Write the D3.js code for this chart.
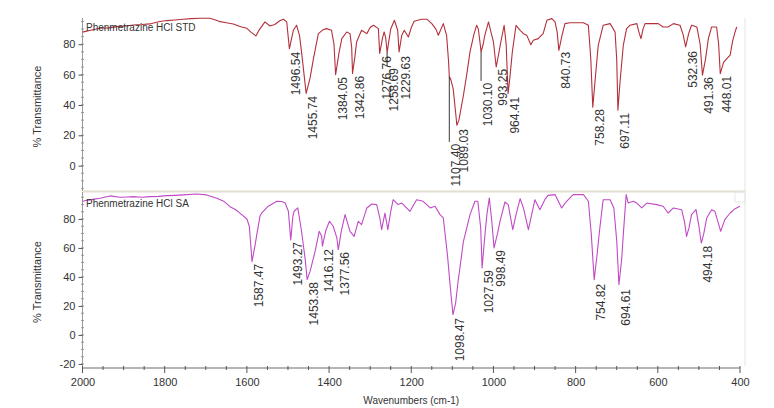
<!DOCTYPE html>
<html><head><meta charset="utf-8">
<script src="https://cdn.jsdelivr.net/npm/d3@7"></script>
<style>
html,body{margin:0;padding:0;background:#fff;}
svg{display:block;font-family:"Liberation Sans",Arial,sans-serif;}
</style></head>
<body>
<svg id="c" width="774" height="408"></svg>
<script>
// ---------- DATA ----------
const xTickLabels = [2000, 1800, 1600, 1400, 1200, 1000, 800, 600, 400];
const yTicksTop = [0, 20, 40, 60, 80];
const yTicksBottom = [-20, 0, 20, 40, 60, 80];
const panelTitles = ["Phenmetrazine HCl STD", "Phenmetrazine HCl SA"];

// Reference spectrum (STD): [wavenumber, %T]
const stdSpectrum = [
[2000,88],[1995,88.3],[1975,89.5],[1957,90.5],[1935,90.8],[1917,91.6],[1895,92],[1876,92.7],[1855,93],[1836,93.4],
[1815,94.8],[1795,95.6],[1775,96],[1755,96.5],[1735,96.9],[1714,97.1],[1690,97.1],[1678,96.2],[1665,94.9],[1650,94.2],
[1633,93.4],[1615,91.5],[1600,90.5],[1590,88],[1578,85.5],[1570,89.5],[1556,94.7],[1544,92],[1532,93],[1520,95.5],
[1511,96.5],[1503,94.7],[1496.54,77],[1487,89.2],[1479,92.5],[1472,86],[1467,75],[1455.74,47.6],[1446,58],[1438,70.5],
[1426,87],[1415,89.5],[1406,90.3],[1394,89.2],[1388,80],[1384.05,60],[1376,74],[1369,83.7],[1357,88.1],[1349,87],
[1345,78],[1342.86,60.8],[1337,72],[1333,81.5],[1321,89.2],[1308,87],[1300,91],[1292,92.5],[1280,90.3],[1276.76,74],
[1270,84],[1266,88.1],[1262,84],[1258.69,74.6],[1250,90],[1241,95.8],[1233,89.2],[1229.63,75],[1223,86],[1217,89.2],
[1207,84.8],[1200,91],[1193,95.2],[1175,96.5],[1162,96.5],[1150,93.6],[1140,90],[1134,85.9],[1122,93.6],[1114,85.9],
[1109,68],[1107.40,58.5],[1104,57],[1098,50.7],[1092,35],[1089.03,26.6],[1084,30],[1073,46.4],[1065,60],[1057,75],
[1048,86],[1041,92.5],[1037,90.3],[1033,82],[1030.10,75],[1025,80],[1021,85.9],[1012,94.7],[1006,88],[1000,81.5],
[993.25,65],[987,74],[982,81.5],[974,92.5],[969,80],[964.41,47.5],[960,58],[954,75],[945,92.5],[935,89.2],
[927,87],[919,86],[909,79.7],[903,82.6],[891,83.7],[879,87],[870,95.8],[858,96.9],[850,94.7],[845,88],
[840.73,76],[833,86],[826,93.6],[814,94.2],[781,94.2],[769,92.5],[763,70],[758.28,38.5],[752,58],[745,79.3],
[733,92.5],[716,93.6],[704,88.1],[700,70],[697.11,36.6],[692,55],[684,79.3],[676,90.3],[668,92.5],[651,93.6],
[646,88],[641,83.7],[636,90],[631,93.6],[599,93.6],[587,91.4],[575,91.4],[562,93.6],[546,92.5],[538,86],
[532.36,78.2],[525,87],[518,92.5],[505,91.4],[497,80],[491.36,59.6],[484,70],[477,83.7],[469,91.4],[457,91.4],
[452,80],[448.01,60.6],[440,68],[432,70.5],[424,72.8],[418,82],[412,88.1],[408,91.4]
];

// Sample spectrum (SA): [wavenumber, %T]
const saSpectrum = [
[2000,92],[1995,92.6],[1975,93.5],[1957,94.3],[1933,95.9],[1909,95],[1890,95.2],[1876,95.4],[1855,95],[1836,95.4],
[1815,95.6],[1795,96.1],[1775,96.3],[1755,96.6],[1722,97.2],[1698,96.6],[1673,94.3],[1655,92],[1641,88.5],[1628,86.5],
[1617,84],[1600,80],[1594,75],[1587.47,50.6],[1580,62],[1576,69],[1568,82],[1564,84.1],[1548,88.8],[1527,92.2],
[1515,92],[1507,91],[1499,85.3],[1493.27,65.6],[1488,82],[1485,85.3],[1476,87.6],[1467,71.5],[1458,52],[1453.38,38.2],
[1446,44],[1434,57.7],[1424,71.5],[1418,68],[1416.12,61.2],[1408,72],[1399,78.4],[1390,75],[1381,66.9],[1377.56,58.8],
[1370,72],[1361,83],[1349,71.5],[1339,68],[1329,78.4],[1321,76.1],[1308,87.6],[1296,90.3],[1284,89.9],[1276,80],
[1272,72.6],[1264,84.1],[1257,72.6],[1250,85],[1244,93.3],[1232,89.9],[1223,91],[1203,85.3],[1187,93.3],[1171,92.2],
[1154,87.6],[1142,88.8],[1130,83],[1122,80.7],[1112,55.4],[1104,30],[1098.47,14],[1092,22],[1086,37],[1073,64.6],
[1057,83],[1045,92.2],[1038,92.2],[1031,73.8],[1027.59,46.2],[1022,65],[1016,83],[1010,94.5],[1004,78.4],[998.49,60],
[990,70],[984,78.4],[972,91.7],[964,89.9],[953,72.6],[945,83],[935,94],[927,87.6],[915,72.6],[907,83],
[899,93.3],[887,86.4],[875,93.3],[867,96.3],[850,96.8],[834,87.6],[822,92.2],[806,96.8],[781,96.8],[769,92.2],
[762,70],[754.82,38.1],[748,55],[742,71.5],[733,93.3],[716,93.3],[707,87.6],[700,65],[694.61,34.7],[688,52],
[684,69.2],[677,96.8],[672,91],[660,92.2],[651,91],[639,87.6],[627,91],[603,89.9],[587,88.8],[575,84.1],
[562,87.6],[542,86.4],[535,78],[530,68],[524,74],[518,83],[507,86.4],[500,75],[494.18,63.4],[488,70],
[481,80.7],[469,86.4],[461,85.3],[447,71.5],[437,79.5],[424,84.1],[412,87.1],[400,88.8]
];

// Peak labels: wavenumber, %T of peak, %T level where the label starts
const stdPeakWn = [1496.54,1455.74,1384.05,1342.86,1276.76,1258.69,1229.63,1107.40,1089.03,1030.10,993.25,964.41,840.73,758.28,697.11,532.36,491.36,448.01];
const stdPeakT  = [77,47.6,60,60.8,74,74.6,75,58.5,26.6,75,65,47.5,76,38.5,36.6,78.2,59.6,60.6];
const stdLabelT = [75.6,46.6,59.1,59.8,72.9,65.0,72.9,15.0,24.8,55.2,64.4,46.0,75.6,38.0,35.4,76.2,59.1,59.8];

const saPeakWn = [1587.47,1493.27,1453.38,1416.12,1377.56,1098.47,1027.59,998.49,754.82,694.61,494.18];
const saPeakT  = [50.6,65.6,38.2,61.2,58.8,14,46.2,60,38.1,34.7,63.4];
const saLabelT = [49.7,64.8,37.2,60.0,57.9,12.4,45.5,59.3,35.9,32.4,62.1];

// ---------- LAYOUT ----------
const svg = d3.select("#c");
const xLeft = 82.5, xRight = 740, frameRight = 745;
const x = d3.scaleLinear().domain([2000, 400]).range([xLeft, xRight]);

const panels = [
  {name: panelTitles[0], data: stdSpectrum, pw: stdPeakWn, pt: stdPeakT, lt: stdLabelT,
   y: d3.scaleLinear().domain([-16.7, 97.3]).range([191, 18]), ticks: yTicksTop,
   color: "#b3303a", top: 18, bottom: 191, titleY: 31},
  {name: panelTitles[1], data: saSpectrum, pw: saPeakWn, pt: saPeakT, lt: saLabelT,
   y: d3.scaleLinear().domain([-22.8, 98.6]).range([368, 192]), ticks: yTicksBottom,
   color: "#c04ac6", top: 192, bottom: 368, titleY: 207}
];

// frame lines
svg.append("line").attr("x1", frameRight).attr("x2", frameRight).attr("y1", 18).attr("y2", 366)
  .attr("stroke", "#e4e4e4").attr("stroke-width", 1);
svg.append("line").attr("x1", xLeft).attr("x2", frameRight).attr("y1", 191.5).attr("y2", 191.5)
  .attr("stroke", "#e2dfcf").attr("stroke-width", 2);
svg.append("rect").attr("x", 735).attr("y", 192).attr("width", 10).attr("height", 10)
  .attr("fill", "none").attr("stroke", "#e6e6e6");

const fmtInt = d => String(d);

panels.forEach(p => {
  const g = svg.append("g");
  // y axis line
  g.append("line").attr("x1", xLeft).attr("x2", xLeft).attr("y1", p.top).attr("y2", p.bottom)
    .attr("stroke", "#9a9a9a").attr("stroke-width", 1);
  // minor ticks every 5
  const minor = d3.range(Math.ceil(p.y.domain()[0] / 5) * 5, p.y.domain()[1], 5);
  g.selectAll(".mn").data(minor).join("line")
    .attr("x1", xLeft - 1.5).attr("x2", xLeft + 1.5)
    .attr("y1", d => p.y(d)).attr("y2", d => p.y(d))
    .attr("stroke", "#888").attr("stroke-width", 0.8);
  // major ticks / labels
  const ax = d3.axisLeft(p.y).tickValues(p.ticks).tickSize(4).tickPadding(3).tickFormat(fmtInt);
  const ag = g.append("g").attr("transform", `translate(${xLeft},0)`).call(ax);
  ag.select(".domain").remove();
  ag.selectAll(".tick line").attr("stroke", "#555");
  ag.selectAll(".tick text").attr("font-size", 11).attr("fill", "#333")
    .attr("font-family", "'Liberation Sans',Arial,sans-serif");

  // y title
  g.append("text").attr("transform", `translate(41,${(p.top + p.bottom) / 2 + 2}) rotate(-90)`)
    .attr("text-anchor", "middle").attr("font-size", 11).attr("fill", "#333")
    .text("% Transmittance");

  // spectrum
  const line = d3.line().x(d => x(d[0])).y(d => p.y(d[1]));
  g.append("path").datum(p.data).attr("d", line).attr("fill", "none")
    .attr("stroke", p.color).attr("stroke-width", 1.1).attr("stroke-linejoin", "round");

  // panel title
  g.append("text").attr("x", 86).attr("y", p.titleY).attr("font-size", 10).attr("fill", "#333")
    .text(p.name);

  // peak markers and labels
  p.pw.forEach((w, i) => {
    const px = x(w), py = p.y(p.pt[i]), ly = p.y(p.lt[i]);
    if (ly - py > 4) {
      g.append("line").attr("x1", px).attr("x2", px).attr("y1", py).attr("y2", ly - 1)
        .attr("stroke", "#222").attr("stroke-width", 0.9);
    }
    g.append("text").attr("transform", `translate(${px + 11},${ly + 1}) rotate(-90)`)
      .attr("text-anchor", "end").attr("font-size", 12).attr("fill", "#333")
      .text(w.toFixed(2));
  });
});

// x axis
const yAxis = 368;
svg.append("line").attr("x1", xLeft).attr("x2", xRight).attr("y1", yAxis).attr("y2", yAxis)
  .attr("stroke", "#b5b5b5").attr("stroke-width", 2);
const xMinor = d3.range(400, 2001, 50);
svg.selectAll(".xm").data(xMinor).join("line")
  .attr("x1", d => x(d)).attr("x2", d => x(d))
  .attr("y1", yAxis - 2).attr("y2", d => xTickLabels.includes(d) ? yAxis + 5 : yAxis + 2)
  .attr("stroke", "#555").attr("stroke-width", 1);
const xa = d3.axisBottom(x).tickValues(xTickLabels).tickSize(0).tickPadding(10).tickFormat(fmtInt);
const xg = svg.append("g").attr("transform", `translate(0,${yAxis})`).call(xa);
xg.select(".domain").remove();
xg.selectAll(".tick text").attr("font-size", 11).attr("fill", "#333")
  .attr("font-family", "'Liberation Sans',Arial,sans-serif");

svg.append("text").attr("x", (xLeft + xRight) / 2).attr("y", 404).attr("text-anchor", "middle")
  .attr("font-size", 10).attr("fill", "#333").text("Wavenumbers (cm-1)");
</script>
</body></html>
